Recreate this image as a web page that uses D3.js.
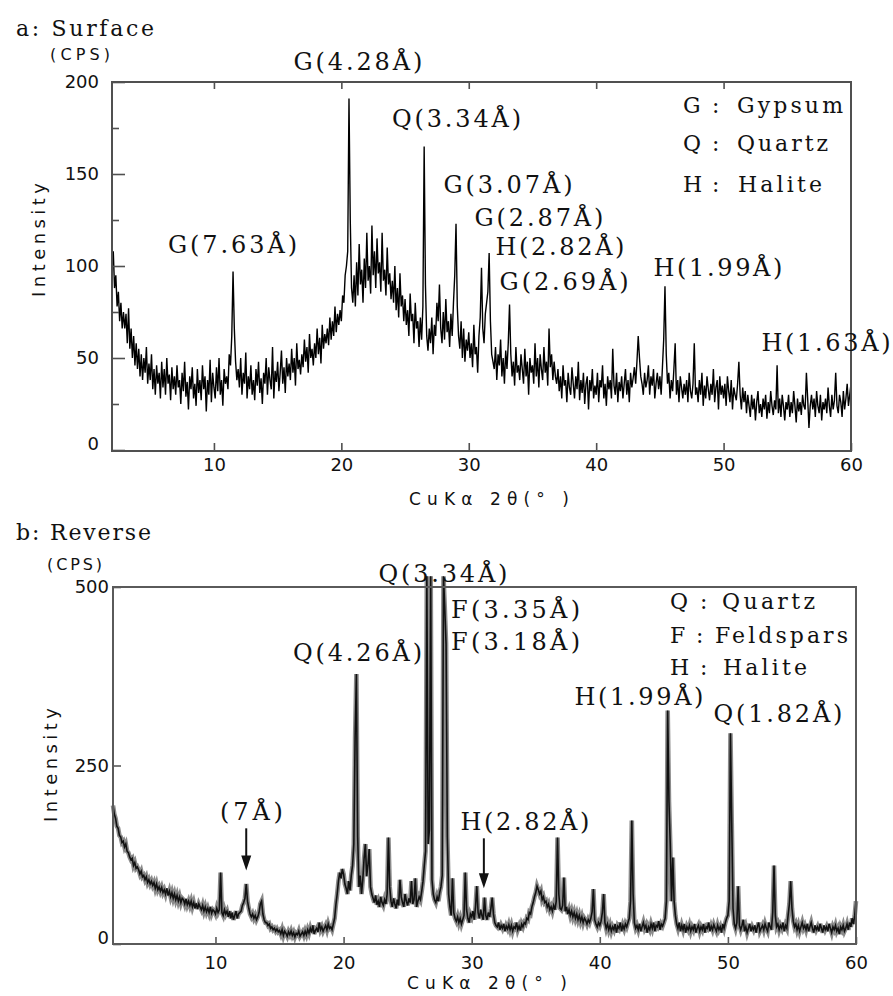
<!DOCTYPE html>
<html><head><meta charset="utf-8">
<script src="https://cdn.jsdelivr.net/npm/d3@7"></script>
<style>body{margin:0;background:#fff} svg{display:block}</style>
</head><body>
<script>
// ---------- data ----------
const twoThetaStart = 2, twoThetaEnd = 60, twoThetaStep = 0.1;
const xTicks = [10, 20, 30, 40, 50, 60];
const surfaceTopTicks = [10, 20, 30, 40, 50];
const surfaceYTicks = [0, 50, 100, 150, 200];
const surfaceMinorYTicks = [25, 75, 125, 175];
const reverseYTicks = [0, 250, 500];

// a: Surface, CPS every 0.1 deg from 2.0 to 60.0
const surfaceCps = [
 100,108,88,95,78,86,70,80,66,75,
 66,74,58,77,55,66,50,62,46,58,
 44,55,40,52,38,50,42,56,36,47,
 38,52,33,44,30,46,36,42,28,48,
 34,44,30,50,36,41,27,45,33,40,
 30,46,34,38,25,42,32,48,29,37,
 22,40,33,45,28,36,24,44,31,38,
 27,46,33,40,21,38,30,49,26,42,
 34,28,45,32,50,30,38,24,44,36,
 40,33,52,46,62,97,66,48,38,44,
 34,50,30,42,36,53,28,40,33,46,
 30,38,27,44,35,48,31,39,25,42,
 36,50,30,45,38,33,56,28,43,37,
 48,32,42,54,36,45,31,50,40,47,
 38,55,42,50,35,58,44,49,41,52,
 45,60,48,56,42,63,50,55,46,58,
 50,66,52,61,47,68,55,63,58,66,
 57,72,60,70,62,78,64,74,68,76,
 70,84,80,95,100,108,191,125,88,80,
 95,78,102,84,112,90,98,80,104,88,
 118,92,100,85,122,95,108,88,115,96,
 102,86,118,92,98,84,110,90,96,82,
 92,80,100,76,88,72,96,78,84,70,
 82,68,76,62,85,70,74,58,80,66,
 70,56,72,60,78,165,90,62,54,66,
 58,72,52,68,62,80,70,90,66,58,
 75,60,82,64,70,56,74,62,80,95,
 123,78,62,55,70,50,66,48,60,54,
 64,50,58,45,68,52,56,42,62,72,
 99,66,58,74,80,86,107,70,52,48,
 44,56,38,52,46,60,40,50,36,54,
 44,58,79,52,40,48,35,56,42,46,
 38,52,44,36,55,40,48,30,50,42,
 46,36,58,40,50,34,52,44,38,56,
 42,48,35,66,45,52,38,48,40,36,
 44,32,40,28,46,35,38,26,42,34,
 30,45,36,28,40,33,48,27,38,31,
 42,25,36,40,22,38,32,44,28,35,
 30,42,26,38,34,46,28,36,24,40,
 33,38,28,55,35,30,42,26,37,32,
 40,28,36,44,30,38,26,42,34,39,
 45,36,48,62,50,40,36,30,42,34,
 38,46,30,40,35,44,28,36,42,33,
 40,30,45,60,89,52,36,42,28,38,
 32,44,58,30,38,26,40,34,28,36,
 30,38,26,42,32,28,36,58,30,34,
 26,38,30,42,24,35,28,40,33,27,
 36,30,44,26,34,38,22,40,30,35,
 28,36,24,40,32,26,38,22,34,30,
 27,36,48,30,22,34,26,32,20,30,
 24,18,30,22,28,16,26,32,20,25,
 18,28,22,30,17,26,20,32,24,19,
 27,22,46,20,28,18,30,24,16,26,
 22,30,18,26,20,32,24,15,28,21,
 26,19,30,24,22,42,28,12,24,30,
 22,28,18,32,24,20,30,16,26,22,
 28,20,34,24,18,30,22,27,42,24,
 20,30,26,18,32,22,28,36,24,30,
 36
];

// b: Reverse, CPS every 0.1 deg from 2.0 to 60.0
const reverseCps = [
 194,182,176,165,162,152,150,142,144,136,
 140,130,128,122,118,120,110,114,106,108,
 104,98,102,94,96,90,94,86,90,84,
 88,82,86,78,84,76,80,74,79,72,
 76,70,78,68,74,66,72,64,70,62,
 68,60,66,58,64,62,56,63,55,60,
 54,60,52,58,50,57,49,56,52,48,
 54,46,52,45,50,44,52,43,48,46,
 42,50,44,48,100,44,40,48,42,46,
 38,46,36,44,34,40,46,36,42,44,
 46,54,58,64,84,60,50,42,38,42,
 36,40,34,38,44,56,60,42,34,30,
 30,26,28,22,24,20,22,18,21,17,
 19,14,20,12,18,15,11,17,13,18,
 12,16,10,15,13,18,11,14,17,12,
 18,13,20,15,22,16,26,14,19,22,
 17,30,20,24,18,22,26,20,28,22,
 24,20,28,36,55,70,88,100,92,105,
 98,84,78,70,88,75,96,110,140,290,
 378,150,80,96,70,90,120,140,95,110,
 133,80,70,64,58,68,55,60,52,66,
 58,54,62,56,70,149,80,60,52,64,
 56,50,62,54,90,66,58,52,70,60,
 54,64,58,88,56,62,92,52,60,66,
 62,74,88,110,130,515,140,160,515,90,
 70,62,58,66,60,72,80,96,515,470,
 420,150,70,52,40,92,44,36,32,38,
 30,36,28,34,40,100,48,36,30,42,
 38,46,34,52,81,44,36,48,40,34,
 65,40,34,44,38,50,65,42,30,26,
 24,30,20,26,22,28,18,25,21,27,
 20,26,18,24,22,30,20,25,19,28,
 24,30,28,36,34,44,42,52,58,66,
 72,81,76,70,74,62,66,58,60,52,
 56,48,52,46,54,48,60,149,70,50,
 48,54,93,46,52,42,48,40,46,38,
 44,36,42,34,40,32,38,30,36,33,
 28,34,30,36,45,77,34,28,24,30,
 26,32,44,70,30,22,28,20,26,18,
 24,20,28,16,25,22,30,18,26,21,
 28,24,30,36,60,173,70,30,22,26,
 20,28,18,24,30,22,26,16,24,20,
 28,22,30,18,26,24,32,20,28,25,
 30,36,60,327,200,140,60,121,60,40,
 28,22,30,18,26,20,28,16,24,20,
 26,18,24,20,28,16,22,26,18,24,
 20,28,16,24,22,30,18,25,20,27,
 22,18,26,20,24,16,28,22,30,36,
 40,60,295,170,50,28,22,30,81,26,
 20,26,34,18,24,16,22,28,18,24,
 20,26,16,24,30,18,22,26,20,28,
 22,18,30,24,20,44,110,40,24,28,
 20,26,22,30,18,26,22,40,56,88,
 50,32,24,28,20,26,18,24,30,22,
 26,20,28,18,24,30,22,16,26,20,
 24,18,28,22,16,26,20,24,18,28,
 22,16,24,20,26,18,22,14,24,20,
 26,18,22,28,20,30,24,36,28,40,
 60
];

// peak annotations: text, centre 2theta, baseline level (CPS)
const surfaceLabels = [
 ["G(4.28Å)", 21.3, 206.5], ["Q(3.34Å)", 29.04, 175.5], ["G(3.07Å)", 33.08, 139.7],
 ["G(2.87Å)", 35.51, 121.7], ["H(2.82Å)", 37.16, 106], ["G(2.69Å)", 37.48, 87],
 ["H(1.99Å)", 49.56, 94.6], ["H(1.63Å)", 58.04, 53.8], ["G(7.63Å)", 11.46, 107]
];
const reverseLabels = [
 ["Q(3.34Å)", 27.76, 507], ["F(3.35Å)", 33.42, 456.6], ["F(3.18Å)", 33.42, 411.8],
 ["Q(4.26Å)", 21.09, 396], ["H(1.99Å)", 43.06, 334.7], ["Q(1.82Å)", 53.91, 311],
 ["(7Å)", 12.81, 173.7], ["H(2.82Å)", 34.16, 159.7]
];
// arrows: 2theta, from level, to level (CPS)
const reverseArrows = [[12.4, 162, 103], [30.95, 148, 78]];
const surfaceLegend = [["G", "Gypsum"], ["Q", "Quartz"], ["H", "Halite"]];
const reverseLegend = [["Q", "Quartz"], ["F", "Feldspars"], ["H", "Halite"]];

// ---------- drawing ----------
const W = 893, H = 996;
const serif = "'DejaVu Serif','Liberation Serif',serif";
const sans = "'DejaVu Sans','Liberation Sans',sans-serif";
const svg = d3.select("body").append("svg").attr("width", W).attr("height", H);

function txt(g, s, x, y, o) {
  const t = g.append("text").attr("x", x).attr("y", y)
    .attr("font-family", o.font).attr("font-size", o.size).attr("fill", o.fill || "#111").text(s);
  if (o.len) t.attr("textLength", o.len).attr("lengthAdjust", "spacing");
  if (o.anchor) t.attr("text-anchor", o.anchor);
  if (o.transform) t.attr("transform", o.transform);
  return t;
}

function drawPanel(p) {
  const x = d3.scaleLinear().domain([twoThetaStart, twoThetaEnd]).range([p.left, p.right]);
  const y = d3.scaleLinear().domain([0, p.yMax]).range([p.zeroY, p.top]);
  const g = svg.append("g");
  const pts = p.values.map((v, i) => [twoThetaStart + i * twoThetaStep, v]);
  const line = d3.line().x(d => x(d[0])).y(d => y(d[1]));
  p.strokes.forEach(s => g.append("path").datum(pts).attr("d", line).attr("fill", "none")
    .attr("stroke", s.color).attr("stroke-width", s.width).attr("stroke-linejoin", "miter")
    .attr("stroke-opacity", s.opacity || 1));

  g.append("rect").attr("x", p.left).attr("y", p.top).attr("width", p.right - p.left)
    .attr("height", p.boxBottom - p.top).attr("fill", "none").attr("stroke", p.boxColor).attr("stroke-width", 2);

  const style = sel => {
    sel.select(".domain").remove();
    sel.selectAll(".tick line").attr("stroke", p.boxColor).attr("stroke-width", 1.6);
    sel.selectAll(".tick text").attr("font-family", sans).attr("font-size", 18).attr("fill", "#111");
  };
  const xa = g.append("g").attr("transform", `translate(0,${p.boxBottom})`)
    .call(d3.axisBottom(x).tickValues(xTicks).tickSize(-p.xTickLen).tickPadding(p.xPad).tickFormat(d3.format("d")));
  style(xa);
  if (p.topTicks) {
    const ta = g.append("g").attr("transform", `translate(0,${p.top})`)
      .call(d3.axisTop(x).tickValues(p.topTicks).tickSize(-7).tickFormat(""));
    style(ta);
  }
  const ya = g.append("g").attr("transform", `translate(${p.left},0)`)
    .call(d3.axisLeft(y).tickValues(p.yTicks).tickSize(-p.yTickLen).tickPadding(p.yPad));
  style(ya);
  ya.selectAll(".tick text").filter(d => d === 0).attr("transform", "translate(0,-6)");
  if (p.minorYTicks) {
    const ma = g.append("g").attr("transform", `translate(${p.left},0)`)
      .call(d3.axisLeft(y).tickValues(p.minorYTicks).tickSize(-7).tickFormat(""));
    style(ma);
  }

  // titles
  txt(g, p.title, 16, p.titleY, {font: serif, size: 22, len: p.titleLen});
  txt(g, "(CPS)", p.cpsX, p.cpsY, {font: sans, size: 16, len: p.cpsLen});
  txt(g, "Intensity", -57, 0, {font: sans, size: 18, len: 114,
    transform: `translate(${p.intX},${p.intY}) rotate(-90)`});
  txt(g, "CuKα  2θ(° )", p.xTitleX - 80, p.xTitleY, {font: sans, size: 17, len: 160});

  // peak labels
  p.labels.forEach(([s, th, lv]) => {
    const len = s.length <= 4 ? 63 : 129;
    txt(g, s, x(th) - len / 2, y(lv), {font: serif, size: 24, len: len});
  });
  // arrows
  (p.arrows || []).forEach(([th, a, b]) => {
    const ax = x(th), y1 = y(a), y2 = y(b);
    g.append("line").attr("x1", ax).attr("x2", ax).attr("y1", y1).attr("y2", y2 - 12)
      .attr("stroke", "#111").attr("stroke-width", 2);
    g.append("path").attr("d", `M${ax - 5},${y2 - 15}L${ax + 5},${y2 - 15}L${ax},${y2}Z`).attr("fill", "#111");
  });
  // legend
  p.legend.forEach(([k, name], i) => {
    const ly = p.legY[i];
    txt(g, k, p.legX, ly, {font: serif, size: 22});
    txt(g, ":", p.legX + p.colonDx[i], ly, {font: serif, size: 22});
    txt(g, name, p.legX + p.nameDx[i], ly, {font: serif, size: 22, len: p.nameLen[i]});
  });
}

drawPanel({
  values: surfaceCps, left: 112, right: 851, top: 82, zeroY: 450, boxBottom: 451, yMax: 200,
  yTicks: surfaceYTicks, minorYTicks: surfaceMinorYTicks, topTicks: surfaceTopTicks,
  yTickLen: 13, xTickLen: 8, xPad: 7, yPad: 13, boxColor: "#505050",
  strokes: [{color: "#000", width: 1.4}],
  title: "a: Surface", titleY: 36, titleLen: 138, cpsX: 50, cpsY: 60, cpsLen: 60,
  intX: 45, intY: 240, xTitleX: 489, xTitleY: 505,
  labels: surfaceLabels, legend: surfaceLegend,
  legX: 683, colonDx: [29, 29, 29], nameDx: [54, 54, 55], nameLen: [106, 91, 84], legY: [113, 151, 192]
});
drawPanel({
  values: reverseCps, left: 113, right: 856, top: 587, zeroY: 944, boxBottom: 944, yMax: 500,
  yTicks: reverseYTicks, yTickLen: 8, xTickLen: 7, xPad: 12, yPad: 4, boxColor: "#5a5a5a",
  strokes: [{color: "#777", width: 4.6, opacity: 0.85}, {color: "#111", width: 1.6}],
  title: "b: Reverse", titleY: 540, titleLen: 135, cpsX: 47, cpsY: 570, cpsLen: 55,
  intX: 57, intY: 765, xTitleX: 487, xTitleY: 989,
  labels: reverseLabels, arrows: reverseArrows, legend: reverseLegend,
  legX: 670, colonDx: [30, 26, 30], nameDx: [52, 45, 53], nameLen: [93, 133, 84], legY: [609, 643, 675]
});
</script>
</body></html>
